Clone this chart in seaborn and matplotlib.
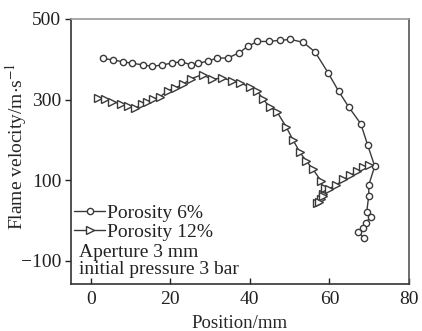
import matplotlib
matplotlib.use("Agg")
import matplotlib.pyplot as plt
import seaborn as sns
import pandas as pd
from matplotlib.lines import Line2D

sns.set_style("ticks")
plt.rcParams['font.family'] = ['Liberation Serif', 'DejaVu Serif']
plt.rcParams['mathtext.fontset'] = 'stix'

x6 = [3.1, 5.6, 8.0, 10.3, 13.2, 15.5, 17.9, 20.3, 22.8, 25.2, 27.0, 29.4, 31.8, 34.5,
      37.3, 39.5, 41.9, 44.8, 47.7, 50.2, 53.4, 56.4, 59.7, 62.3, 64.9, 67.9, 69.6,
      71.4, 69.9, 69.9, 69.4, 70.4, 69.1, 68.5, 67.3, 68.8]
y6 = [402, 398, 394, 390, 386, 382, 386, 390, 394, 386, 390, 395, 403, 403,
      416, 432, 444, 444, 447, 449, 442, 418, 366, 321, 281, 240, 188,
      135, 88, 62, 22, 9, -5, -18, -29, -43]

x12 = [1.7, 3.5, 5.4, 7.5, 9.4, 11.1, 12.8, 14.2, 15.7, 17.4, 19.4, 21.1, 23.2, 25.3,
       28.1, 30.4, 33.1, 35.5, 37.4, 40.0, 41.9, 43.3, 45.1, 46.8, 49.1, 50.8, 52.6,
       54.1, 55.9, 58.0, 58.3, 58.0, 56.8, 57.5, 58.3, 58.8, 59.9, 61.7, 63.5, 65.3,
       66.9, 68.5, 70.0]
y12 = [305, 301, 295, 290, 284, 278, 288, 294, 301, 307, 322, 328, 338, 352,
       362, 350, 354, 346, 342, 331, 321, 301, 281, 270, 233, 201, 169,
       149, 127, 97, 67, 54, 44, 46, 60, 81, 79, 88, 102, 112,
       122, 132, 139]

labels = ["Porosity 6%", "Porosity 12%"]
notes = ["Aperture 3 mm", "initial pressure 3 bar"]
xticks = [0, 20, 40, 60, 80]
yticks = [-100, 100, 300, 500]

fig, ax = plt.subplots(figsize=(4.22, 3.31), dpi=100)
fig.subplots_adjust(left=0.168, right=0.969, top=0.943, bottom=0.142)

lc = "#3a3a3a"
df6 = pd.DataFrame({"x": x6, "y": y6})
df12 = pd.DataFrame({"x": x12, "y": y12})
sns.lineplot(data=df6, x="x", y="y", sort=False, estimator=None, ax=ax,
             color=lc, lw=1.0, marker="o", markersize=4.5,
             markerfacecolor="white", markeredgecolor=lc, markeredgewidth=1.0)
sns.lineplot(data=df12, x="x", y="y", sort=False, estimator=None, ax=ax,
             color=lc, lw=1.0, marker=">", markersize=5.5,
             markerfacecolor="white", markeredgecolor=lc, markeredgewidth=1.0)

ax.set_xlim(-5, 80)
ax.set_ylim(-157, 500)
ax.set_xticks(xticks)
ax.set_yticks(yticks)
ax.tick_params(axis="x", direction="in", length=4, width=1, labelsize=14, colors="#222", pad=5)
ax.tick_params(axis="y", direction="out", length=4, width=1, labelsize=14, colors="#222", pad=3)
for s in ["left", "bottom"]:
    ax.spines[s].set_color("#333")
    ax.spines[s].set_linewidth(1.2)
for s in ["top", "right"]:
    ax.spines[s].set_color("#999")
    ax.spines[s].set_linewidth(1.2)
ax.spines["right"].set_color("#555")

ax.set_xlabel("Position/mm", fontsize=13.5, labelpad=5)
ax.set_ylabel("Flame velocity/m$\\cdot$s$^{-1}$", fontsize=14)
ax.yaxis.set_label_coords(-0.125, 0.52)

handles = [Line2D([], [], color=lc, lw=1.0, marker="o", markersize=4.5,
                  markerfacecolor="white", markeredgecolor=lc),
           Line2D([], [], color=lc, lw=1.0, marker=">", markersize=5.5,
                  markerfacecolor="white", markeredgecolor=lc)]
leg = ax.legend(handles, labels, loc="upper left", bbox_to_anchor=(0.01, 0.30),
                frameon=False, fontsize=14, handlelength=1.6, handletextpad=0.1,
                labelspacing=0.05, borderaxespad=0, borderpad=0)
for t in leg.get_texts():
    t.set_color("#222")
ax.text(0.025, 0.12, notes[0], transform=ax.transAxes, fontsize=14, va="center", color="#222")
ax.text(0.025, 0.055, notes[1], transform=ax.transAxes, fontsize=14, va="center", color="#222")

fig.savefig("out.png", dpi=100)
